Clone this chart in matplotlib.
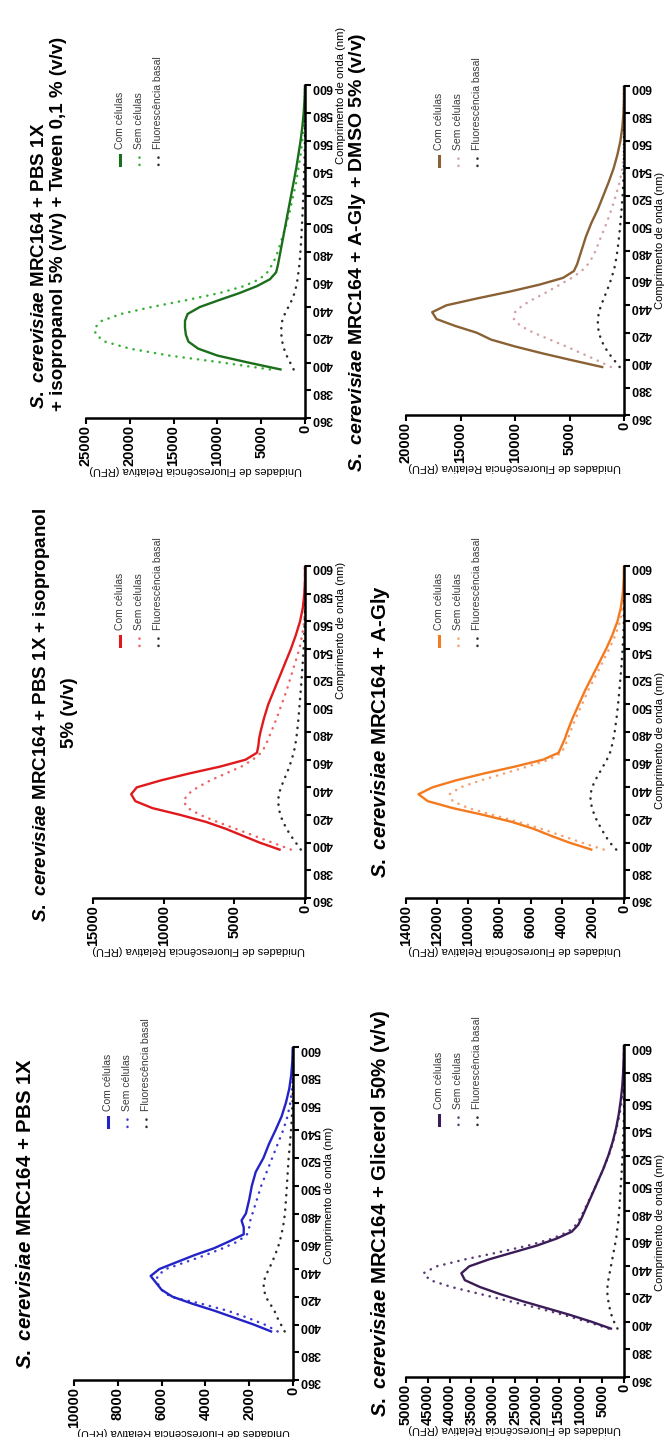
import matplotlib
matplotlib.use('Agg')
import matplotlib.pyplot as plt
from matplotlib.lines import Line2D

plt.rcParams['font.family'] = ['Liberation Sans', 'DejaVu Sans']
plt.rcParams['mathtext.fontset'] = 'custom'
plt.rcParams['mathtext.it'] = 'Liberation Sans:italic:bold'
plt.rcParams['mathtext.rm'] = 'Liberation Sans:bold'
plt.rcParams['mathtext.bf'] = 'Liberation Sans:bold'

W, H = 668, 1437

# wavelength grid (nm)
wl = [395, 400, 405, 410, 415, 420, 425, 430, 435, 440, 445, 450, 455, 460, 465,
      470, 475, 480, 490, 500, 510, 520, 530, 540, 550, 560, 570, 580, 590, 600]

legend_labels = ['Com células', 'Sem células', 'Fluorescência basal']

# PBS 1X
com_pbs = [1000, 1800, 2700, 3600, 4600, 5500, 6000, 6250, 6500, 6100, 5300, 4500, 3600, 2900, 2250,
           2250, 2350, 2150, 2000, 1880, 1700, 1350, 1100, 800, 520, 320, 170, 80, 30, 10]
sem_pbs = [700, 1300, 2100, 3000, 4200, 5600, 6000, 6200, 6200, 5800, 4900, 4000, 3200, 2500, 2100,
           2000, 1950, 1850, 1650, 1450, 1200, 950, 700, 450, 250, 120, 40, 0, 0, 0]
bas_pbs = [380, 550, 720, 850, 1050, 1250, 1320, 1350, 1250, 1100, 950, 820, 700, 600, 530,
           460, 410, 370, 320, 280, 240, 200, 140, 90, 50, 20, 0, 0, 0, 0]

# PBS 1X + isopropanol 5%
com_iso = [1800, 3200, 4400, 5600, 7000, 8800, 10800, 12000, 12300, 11900, 10200, 8200, 6000, 4200, 3400,
           3300, 3250, 3150, 2900, 2600, 2200, 1800, 1400, 1000, 650, 350, 150, 50, 0, 0]
sem_iso = [1000, 2300, 3600, 4900, 6200, 7400, 8300, 8600, 8300, 7600, 6700, 5600, 4500, 3700, 3100,
           2800, 2600, 2400, 2000, 1650, 1300, 1000, 700, 400, 200, 50, 0, 0, 0, 0]
bas_iso = [300, 650, 1000, 1300, 1550, 1750, 1850, 1900, 1850, 1700, 1500, 1300, 1100, 950, 800,
           700, 620, 560, 460, 380, 300, 230, 160, 100, 50, 20, 0, 0, 0, 0]

# PBS 1X + isopropanol 5% + Tween 0,1%
com_tw = [2800, 6500, 10000, 12200, 13300, 13600, 13700, 13700, 13400, 12000, 9800, 7500, 5500, 4000, 3300,
          3100, 2950, 2800, 2500, 2200, 1900, 1600, 1300, 1000, 750, 500, 300, 150, 50, 0]
sem_tw = [4000, 9500, 15500, 20000, 22800, 23900, 24000, 23200, 21000, 17500, 13500, 9800, 7000, 5200, 4300,
          3800, 3400, 3100, 2600, 2100, 1700, 1350, 1000, 750, 500, 300, 150, 60, 20, 0]
bas_tw = [1300, 1700, 2100, 2400, 2600, 2700, 2700, 2600, 2300, 1900, 1500, 1200, 1000, 850, 750,
          650, 580, 520, 420, 340, 260, 190, 130, 80, 40, 10, 0, 0, 0, 0]

# Glicerol 50%
com_gl = [3000, 7500, 12500, 18000, 23500, 28500, 33000, 36500, 37300, 35500, 31000, 25500, 20000, 15500, 12000,
          10500, 9700, 9000, 7600, 6200, 4800, 3600, 2600, 1800, 1200, 750, 400, 200, 80, 0]
sem_gl = [3500, 8500, 14000, 20000, 26500, 33000, 39500, 44500, 46000, 43000, 36500, 29000, 22000, 16500, 12800,
          11000, 10000, 9200, 7700, 6200, 4800, 3500, 2500, 1700, 1000, 500, 200, 50, 0, 0]
bas_gl = [1500, 2300, 2900, 3300, 3600, 3800, 3800, 3600, 3300, 3000, 2700, 2400, 2100, 1800, 1600,
          1400, 1250, 1100, 900, 700, 500, 350, 200, 100, 0, 0, 0, 0, 0, 0]

# A-Gly
com_ag = [2100, 3500, 4700, 5800, 7200, 9000, 11000, 12600, 13200, 12300, 10800, 9000, 7000, 5200, 4200,
          4000, 3800, 3650, 3300, 2900, 2500, 2050, 1600, 1150, 750, 420, 200, 80, 20, 0]
sem_ag = [1300, 2700, 4000, 5300, 6800, 8400, 10000, 11000, 11200, 10500, 9200, 7700, 6200, 4800, 4000,
          3800, 3600, 3450, 3100, 2700, 2300, 1850, 1400, 950, 550, 250, 80, 0, 0, 0]
bas_ag = [500, 900, 1200, 1450, 1700, 1900, 2050, 2150, 2150, 2050, 1850, 1600, 1350, 1100, 900,
          780, 680, 600, 480, 380, 300, 220, 150, 90, 40, 10, 0, 0, 0, 0]

# A-Gly + DMSO 5%
com_dm = [2000, 4800, 7500, 10000, 12200, 13500, 15500, 17200, 17600, 16300, 13500, 10500, 7800, 5600, 4600,
          4300, 4100, 3900, 3500, 3000, 2400, 1900, 1400, 950, 600, 330, 150, 50, 10, 0]
sem_dm = [1200, 2500, 3900, 5300, 6800, 8300, 9500, 10100, 10000, 9300, 8200, 7000, 5900, 4800, 3900,
          3300, 2900, 2600, 2100, 1600, 1150, 750, 400, 150, 30, 0, 0, 0, 0, 0]
bas_dm = [400, 900, 1400, 1800, 2100, 2300, 2400, 2400, 2300, 2100, 1850, 1600, 1350, 1150, 950,
          800, 700, 600, 450, 330, 220, 130, 60, 20, 0, 0, 0, 0, 0, 0]

sp = r'$\mathit{S.\ cerevisiae}$'

# box = left px, axis px (0 RFU), top px (600 nm), bottom px (360 nm)
# titles: (text, x px, y px, vertical anchor, size)
panels = [
    dict(box=(86, 305, 85, 418), ymax=25000, ticks=range(0, 25001, 5000),
         data=(com_tw, sem_tw, bas_tw), c=('#1b6e1b', '#36b036'), xlab=95,
         titles=[(sp + ' MRC164 + PBS 1X', 40, 409, 'bottom', 13.5),
                 ('+ isopropanol 5% (v/v) + Tween 0,1 % (v/v)', 59, 411, 'bottom', 13.5)]),
    dict(box=(406, 624, 86, 415), ymax=20000, ticks=range(0, 20001, 5000),
         data=(com_dm, sem_dm, bas_dm), c=('#8a6135', '#d2a2a6'), xlab=240,
         titles=[(sp + ' MRC164 + A-Gly + DMSO 5% (v/v)', 357, 252, 'center', 14)]),
    dict(box=(93, 305, 566, 898), ymax=15000, ticks=range(0, 15001, 5000),
         data=(com_iso, sem_iso, bas_iso), c=('#e01a1c', '#ef6262'), xlab=630,
         titles=[(sp + ' MRC164 + PBS 1X + isopropanol', 42, 715, 'center', 13.5),
                 ('5% (v/v)', 69, 713, 'center', 13.5)]),
    dict(box=(406, 624, 566, 898), ymax=14000, ticks=range(0, 14001, 2000),
         data=(com_ag, sem_ag, bas_ag), c=('#f47a20', '#f5a070'), xlab=740,
         titles=[(sp + ' MRC164 + A-Gly', 381, 732, 'center', 14.7)]),
    dict(box=(74, 293, 1047, 1380), ymax=10000, ticks=range(0, 10001, 2000),
         data=(com_pbs, sem_pbs, bas_pbs), c=('#2323c8', '#3c3cd2'), xlab=1195,
         titles=[(sp + ' MRC164 + PBS 1X', 26, 1213, 'center', 14.7)]),
    dict(box=(406, 624, 1045, 1377), ymax=50000, ticks=range(0, 50001, 5000),
         data=(com_gl, sem_gl, bas_gl), c=('#3b1c57', '#5a3b7a'), xlab=1222,
         titles=[(sp + ' MRC164 + Glicerol 50% (v/v)', 381, 1213, 'center', 14.7)]),
]

basal_color = '#2b2b2b'
dots = (0, (0.1, 2.8))

fig = plt.figure(figsize=(W / 100, H / 100), dpi=100)


def fx(px):
    return px / W


def fy(py):
    return 1 - py / H


for p in panels:
    x0, x1, y0, y1 = p['box']
    ax = fig.add_axes([fx(x0), fy(y1), (x1 - x0) / W, (y1 - y0) / H])
    com, sem, bas = p['data']
    c_com, c_sem = p['c']
    ax.plot(bas, wl, color=basal_color, lw=1.8, ls=dots, dash_capstyle='round')
    ax.plot(sem, wl, color=c_sem, lw=1.8, ls=dots, dash_capstyle='round')
    ax.plot(com, wl, color=c_com, lw=1.7)

    ax.set_xlim(p['ymax'], 0)
    ax.set_ylim(360, 600)
    ax.set_xticks(list(p['ticks']))
    ax.set_yticks(range(360, 601, 20))
    for s in ('left', 'top'):
        ax.spines[s].set_visible(False)
    for s in ('right', 'bottom'):
        ax.spines[s].set_linewidth(1.8)
    ax.yaxis.tick_right()
    ax.tick_params(axis='y', direction='out', length=4, width=1.5, labelsize=9,
                   labelrotation=180, pad=1)
    ax.tick_params(axis='x', direction='out', length=4, width=1.5, labelsize=10.5,
                   labelrotation=90, pad=1)
    for lab in ax.get_xticklabels() + ax.get_yticklabels():
        lab.set_fontweight('bold')

    # axis labels
    fig.text(fx((x0 + x1) / 2), fy(y1 + 52), 'Unidades de Fluorescência Relativa (RFU)',
             rotation=180, fontsize=8, ha='center', va='center')
    fig.text(fx(x1 + 36), fy(p['xlab']), 'Comprimento de onda (nm)',
             rotation=90, fontsize=8, ha='center', va='center')

    # titles
    for txt, tx, ty, va, fs in p['titles']:
        fig.text(fx(tx), fy(ty), txt, rotation=90, fontsize=fs, fontweight='bold',
                 ha='center', va=va)

    # legend (rotated, drawn by hand)
    for i, lab in enumerate(legend_labels):
        ex = x1 - [185, 166, 147][i]
        if i == 0:
            fig.add_artist(Line2D([fx(ex), fx(ex)], [fy(y0 + 70), fy(y0 + 80)],
                                  color=c_com, lw=2.2, transform=fig.transFigure))
        else:
            col = c_sem if i == 1 else basal_color
            fig.add_artist(Line2D([fx(ex), fx(ex)], [fy(y0 + 72), fy(y0 + 80)],
                                  color=col, lw=1.8, ls=dots, dash_capstyle='round',
                                  transform=fig.transFigure))
        fig.text(fx(ex), fy(y0 + 64), lab, rotation=90, fontsize=7.5,
                 ha='center', va='bottom', color='#3a3a3a')

fig.savefig('out.png', dpi=100)
